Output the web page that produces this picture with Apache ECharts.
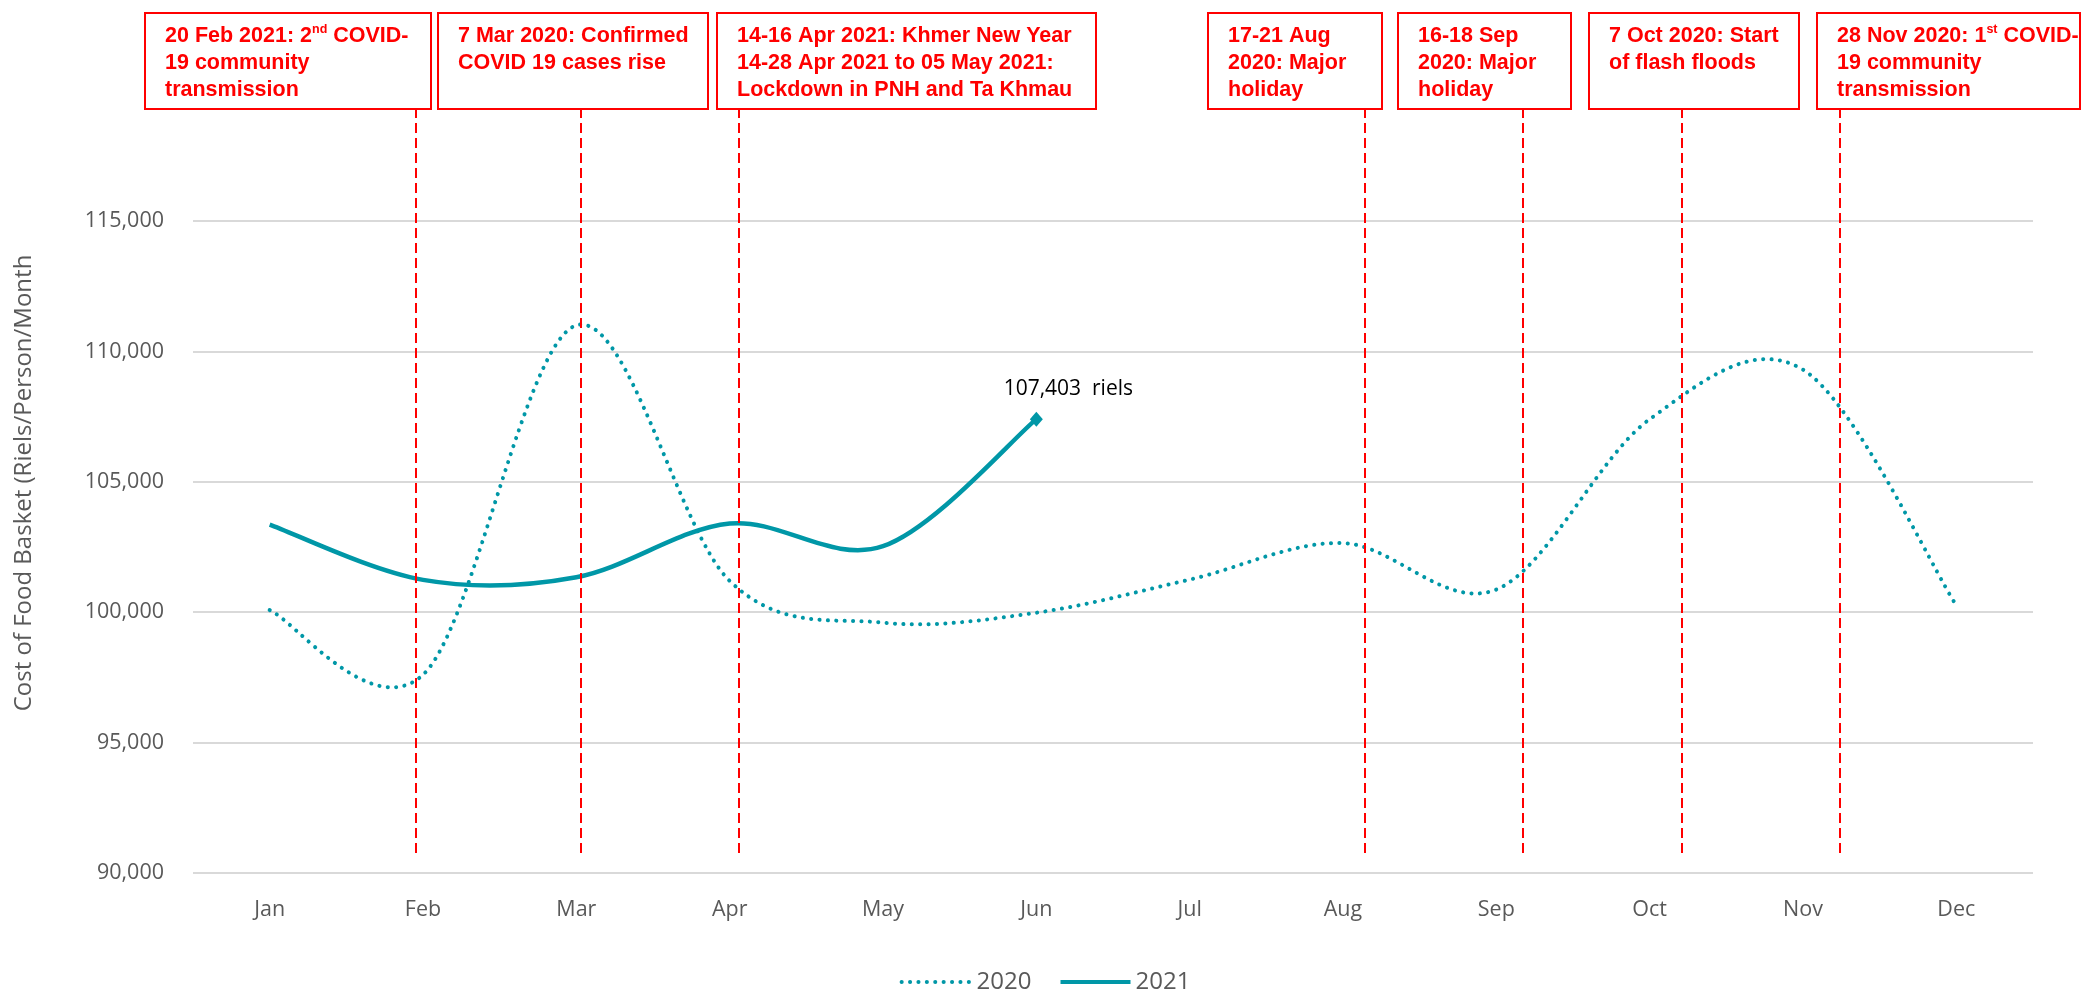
<!DOCTYPE html>
<html lang="en">
<head>
  <meta charset="UTF-8">
  <title>Cost of Food Basket</title>
  <style>
    * { margin: 0; padding: 0; }
    body { background: #ffffff; }
    #chart { width: 2090px; height: 992px; }
  </style>
</head>
<body>
  <div id="chart"></div>

  <script src="https://cdn.jsdelivr.net/npm/echarts@6/dist/echarts.min.js"></script>
  <script type="text/javascript">
  // data
  var months = ['Jan', 'Feb', 'Mar', 'Apr', 'May', 'Jun', 'Jul', 'Aug', 'Sep', 'Oct', 'Nov', 'Dec'];
  var cost2020 = [100080, 97600, 111000, 101200, 99600, 99980, 101250, 102650, 100870, 107400, 109300, 100260];
  var cost2021 = [103360, 101240, 101340, 103400, 102530, 107403];
  var yTicks = [90000, 95000, 100000, 105000, 110000, 115000];
  // event lines, in month units (0 = Jan)
  var eventPos = [0.95, 2.03, 3.06, 7.14, 8.17, 9.21, 10.24];
  var eventText = [
    '{a|20 Feb 2021: 2}{s|nd}{a| COVID-}\n{a|19 community}\n{a|transmission}',
    '{a|7 Mar 2020: Confirmed}\n{a|COVID 19 cases rise}',
    '{a|14-16 Apr 2021: Khmer New Year}\n{a|14-28 Apr 2021 to 05 May 2021:}\n{a|Lockdown in PNH and Ta Khmau}',
    '{a|17-21 Aug}\n{a|2020: Major}\n{a|holiday}',
    '{a|16-18 Sep}\n{a|2020: Major}\n{a|holiday}',
    '{a|7 Oct 2020: Start}\n{a|of flash floods}',
    '{a|28 Nov 2020: 1}{s|st}{a| COVID-}\n{a|19 community}\n{a|transmission}'
  ];
  // box edges [left, right] in px
  var boxX = [[144, 430], [437, 707], [716, 1095], [1207, 1381], [1397, 1570], [1588, 1798], [1816, 2079]];

  var teal = '#0097a7';
  var red = '#ff0000';
  var grey = '#595959';
  var dots = [0.1, 8.3];

  function fmt(v) { return Number(v).toLocaleString('en-US'); }

  // curve through the points like a spreadsheet "smoothed line" (cardinal bezier, 1/6 tangents)
  function curve(name, values, style) {
    return {
      name: name,
      type: 'custom',
      silent: true,
      data: [[0, values[0]]],
      renderItem: function (params, api) {
        var p = values.map(function (v, i) { return api.coord([i, v]); });
        var n = p.length;
        var d = 'M' + p[0][0].toFixed(2) + ' ' + p[0][1].toFixed(2);
        for (var i = 0; i < n - 1; i++) {
          var p0 = p[Math.max(i - 1, 0)], p1 = p[i], p2 = p[i + 1], p3 = p[Math.min(i + 2, n - 1)];
          var c1 = [p1[0] + (p2[0] - p0[0]) / 6, p1[1] + (p2[1] - p0[1]) / 6];
          var c2 = [p2[0] - (p3[0] - p1[0]) / 6, p2[1] - (p3[1] - p1[1]) / 6];
          d += ' C' + [c1[0], c1[1], c2[0], c2[1], p2[0], p2[1]].map(function (x) { return x.toFixed(2); }).join(' ');
        }
        return {
          type: 'path',
          shape: { pathData: d },
          style: Object.assign({ fill: 'none', stroke: teal }, style)
        };
      }
    };
  }

  function main () {
    var chart = echarts.init(document.getElementById('chart'));

    var boxes = eventText.map(function (t, i) {
      return {
        type: 'group',
        left: boxX[i][0],
        top: 12,
        children: [
          {
            type: 'rect',
            shape: { x: 0, y: 0, width: boxX[i][1] - boxX[i][0], height: 96 },
            style: { fill: '#fff', stroke: red, lineWidth: 2 }
          },
          {
            type: 'text',
            x: 20,
            y: 10,
            style: {
              text: t,
              rich: {
                a: { fontFamily: 'Liberation Sans', fontWeight: 'bold', fontSize: 21.5, lineHeight: 27, fill: red },
                s: { fontFamily: 'Liberation Sans', fontWeight: 'bold', fontSize: 12.5, lineHeight: 20, fill: red, verticalAlign: 'top' }
              }
            }
          }
        ]
      };
    });

    var option = {
      animation: false,
      textStyle: { fontFamily: 'Open Sans' },
      grid: [
        { left: 193, right: 57, top: 221, bottom: 119 },
        { left: 193, right: 57, top: 109, bottom: 139 }
      ],
      legend: {
        top: 965,
        left: 'center',
        itemWidth: 70,
        itemHeight: 14,
        itemGap: 27,
        data: ['2020', '2021'],
        itemStyle: { opacity: 0 },
        lineStyle: { width: 4, opacity: 1 },
        textStyle: { color: grey, fontSize: 24, fontFamily: 'Open Sans' }
      },
      xAxis: [
        {
          type: 'category',
          data: months,
          gridIndex: 0,
          axisLine: { show: false },
          axisTick: { show: false },
          axisLabel: { color: grey, fontSize: 21.5, margin: 26 }
        },
        { type: 'value', gridIndex: 1, min: -0.5, max: 11.5, show: false }
      ],
      yAxis: [
        {
          type: 'value',
          gridIndex: 0,
          min: yTicks[0],
          max: yTicks[yTicks.length - 1],
          interval: 5000,
          name: 'Cost of Food Basket (Riels/Person/Month',
          nameLocation: 'middle',
          nameGap: 157,
          nameTextStyle: { color: grey, fontSize: 24, padding: [0, 0, 0, 128] },
          axisLine: { show: false },
          axisTick: { show: false },
          axisLabel: { color: grey, fontSize: 21.5, margin: 29, formatter: fmt },
          splitLine: { lineStyle: { color: '#d9d9d9', width: 2 } }
        },
        { type: 'value', gridIndex: 1, min: 0, max: 1, show: false }
      ],
      graphic: boxes,
      series: [
        // legend entries and the end marker; the visible curves are drawn below
        {
          name: '2020',
          type: 'line',
          data: cost2020,
          symbol: 'none',
          lineStyle: { color: teal, width: 4, type: dots, cap: 'round', opacity: 0 },
          itemStyle: { color: teal }
        },
        {
          name: '2021',
          type: 'line',
          data: cost2021.map(function (v, i) {
            if (i < cost2021.length - 1) return v;
            return {
              value: v,
              symbol: 'diamond',
              symbolSize: [13, 15],
              label: {
                show: true,
                position: 'top',
                offset: [32, -7],
                color: '#000',
                fontSize: 21,
                formatter: function (p) { return fmt(p.value) + '  riels'; }
              }
            };
          }),
          symbol: 'none',
          showAllSymbol: true,
          z: 3,
          lineStyle: { color: teal, width: 4.5, opacity: 0 },
          itemStyle: { color: teal }
        },
        curve('2020 curve', cost2020, { lineWidth: 4, lineDash: dots, lineCap: 'round' }),
        curve('2021 curve', cost2021, { lineWidth: 4.5 }),
        {
          name: 'events',
          type: 'line',
          xAxisIndex: 1,
          yAxisIndex: 1,
          data: [],
          markLine: {
            silent: true,
            symbol: 'none',
            label: { show: false },
            lineStyle: { color: red, width: 2, type: [10, 5] },
            data: eventPos.map(function (x) {
              return [{ coord: [x, 0] }, { coord: [x, 1] }];
            })
          }
        }
      ]
    };
    chart.setOption(option);
  }

  window.addEventListener('load', main);
  </script>
</body>
</html>
